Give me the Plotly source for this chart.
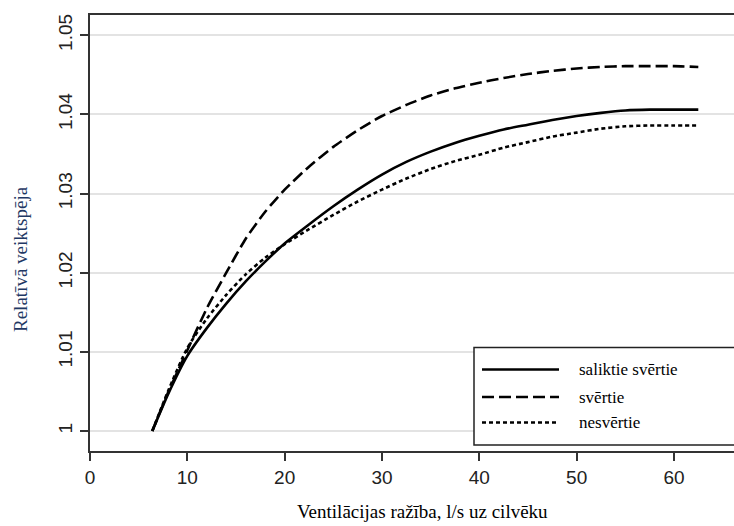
import plotly.graph_objects as go

# ---- data ----
x_vals = [6.4, 8, 10, 12, 14, 16, 18, 20, 22.5, 25, 27.5, 30, 32.5, 35, 37.5,
          40, 42.5, 45, 47.5, 50, 52.5, 55, 57.5, 60, 62.5]
saliktie_svertie = [1.0000, 1.0046, 1.0095, 1.0130, 1.0161, 1.0189, 1.0214, 1.0237,
                    1.0261, 1.0284, 1.0305, 1.0324, 1.0340, 1.0353, 1.0364,
                    1.0373, 1.0381, 1.0387, 1.0393, 1.0398, 1.0402, 1.0405,
                    1.0406, 1.0406, 1.0406]
svertie = [1.0000, 1.0048, 1.0102, 1.0155, 1.0200, 1.0243, 1.0277, 1.0305,
           1.0334, 1.0359, 1.0380, 1.0398, 1.0412, 1.0424, 1.0433,
           1.0440, 1.0446, 1.0451, 1.0455, 1.0458, 1.0460, 1.0461,
           1.0461, 1.0461, 1.0460]
nesvertie = [1.0000, 1.0050, 1.0105, 1.0142, 1.0172, 1.0198, 1.0219, 1.0236,
             1.0255, 1.0273, 1.0290, 1.0305, 1.0319, 1.0331, 1.0341,
             1.0349, 1.0358, 1.0365, 1.0372, 1.0377, 1.0382, 1.0385,
             1.0386, 1.0386, 1.0386]
series_names = ["saliktie svērtie", "svērtie", "nesvērtie"]
x_ticks = [0, 10, 20, 30, 40, 50, 60]
y_ticks = [1.00, 1.01, 1.02, 1.03, 1.04, 1.05]
y_tick_text = ["1", "1.01", "1.02", "1.03", "1.04", "1.05"]
x_title = "Ventilācijas ražība, l/s uz cilvēku"
y_title = "Relatīvā veiktspēja"

series = [saliktie_svertie, svertie, nesvertie]
dashes = ["solid", "12px,5px", "4px,3px"]

W, H = 734, 526
L, R, T, B = 90, 0, 15, 75
pw, ph = W - L - R, H - T - B

def px_x(p):
    return (p - L) / pw

def px_y(p):
    return (H - B - p) / ph

fig = go.Figure()
for ys, name, d in zip(series, series_names, dashes):
    fig.add_trace(go.Scatter(x=x_vals, y=ys, name=name, mode="lines",
                             line=dict(color="black", width=2.6, dash=d,
                                       shape="spline", smoothing=0.6),
                             showlegend=False))

# custom legend box
fig.add_shape(type="rect", xref="paper", yref="paper",
              x0=px_x(474), x1=px_x(740), y0=px_y(445), y1=px_y(347.5),
              line=dict(color="#222222", width=1.5), fillcolor="white", layer="above")
leg_y = [369.5, 397, 422.5]
for name, d, yy in zip(series_names, dashes, leg_y):
    fig.add_shape(type="line", xref="paper", yref="paper",
                  x0=px_x(482), x1=px_x(559), y0=px_y(yy), y1=px_y(yy),
                  line=dict(color="black", width=2.6, dash=d), layer="above")
    fig.add_annotation(xref="paper", yref="paper", x=px_x(577), y=px_y(yy),
                       text=name, showarrow=False, xanchor="left", yanchor="middle",
                       font=dict(family="Liberation Serif", size=17, color="black"))

fig.add_annotation(xref="paper", yref="paper", x=px_x(422), y=px_y(524),
                   text=x_title, showarrow=False, xanchor="center", yanchor="bottom",
                   font=dict(family="Liberation Serif", size=19, color="black"))
fig.add_annotation(xref="paper", yref="paper", x=px_x(20), y=px_y(259),
                   text=y_title, showarrow=False, xanchor="center", yanchor="middle",
                   textangle=-90,
                   font=dict(family="Liberation Serif", size=19, color="#1F3864"))

fig.update_layout(
    width=W, height=H,
    margin=dict(l=L, r=R, t=T, b=B, pad=0),
    paper_bgcolor="white", plot_bgcolor="white",
    showlegend=False,
    font=dict(family="Liberation Sans", size=19, color="#222222"),
    xaxis=dict(range=[0, (W - L) / 9.733], tickvals=x_ticks, showgrid=False,
               showline=True, linecolor="#333333", linewidth=2, mirror=True,
               ticks="outside", ticklen=8, tickwidth=1.5, tickcolor="#333333",
               zeroline=False, tickfont=dict(size=19, color="#222222")),
    yaxis=dict(range=[0.99748, 1.05256], tickvals=y_ticks, ticktext=y_tick_text,
               tickangle=-90, showgrid=True, gridcolor="#e3e3e3", gridwidth=1.5,
               showline=True, linecolor="#333333", linewidth=2,
               ticks="outside", ticklen=8, tickwidth=1.5, tickcolor="#333333",
               zeroline=False, tickfont=dict(size=19, color="#222222")),
)

fig.write_html("out.html")
